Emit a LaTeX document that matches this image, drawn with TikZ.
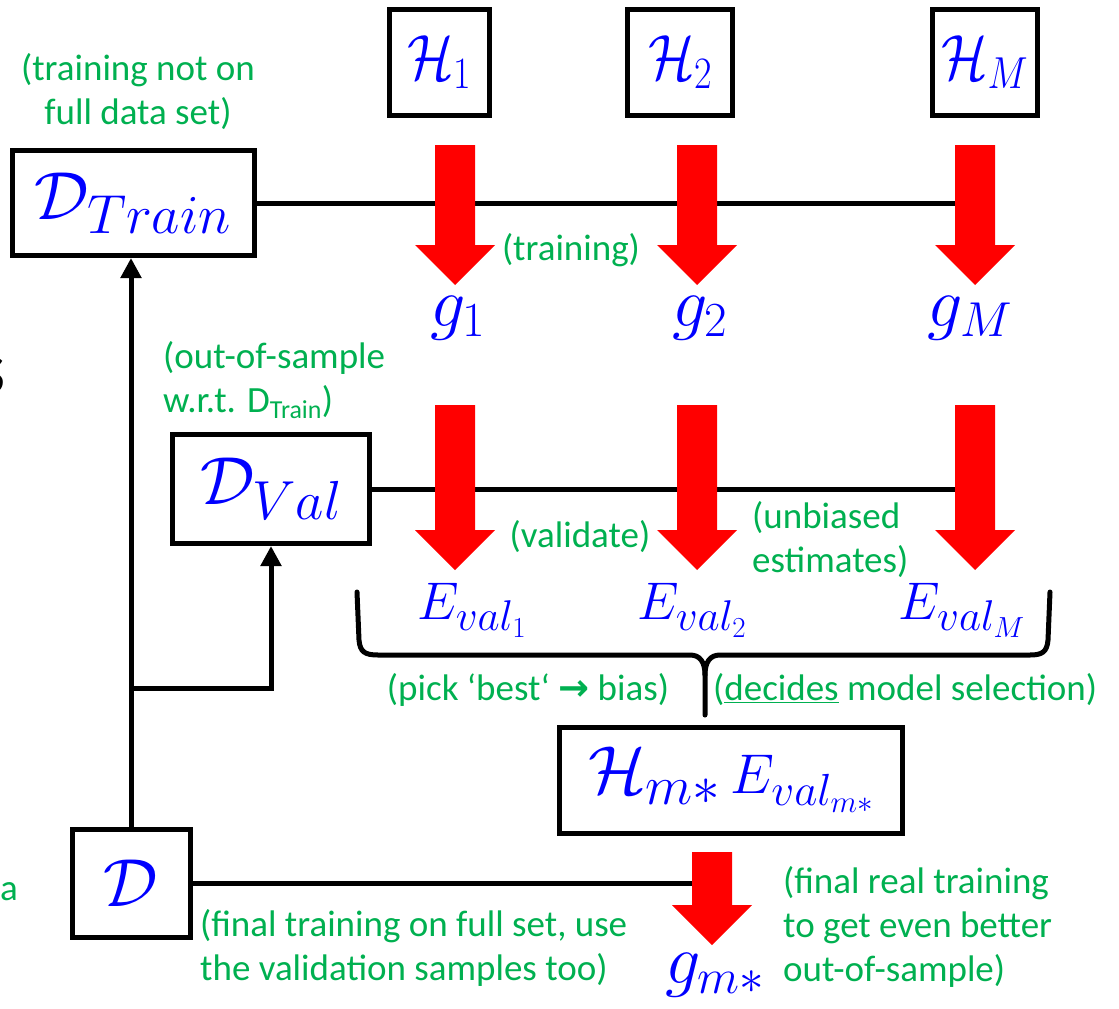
\RequirePackage{fix-cm}
\documentclass[tikz,border=0pt]{standalone}
\usepackage[no-math]{fontspec}
\setmainfont{Carlito}
\newfontfamily\arrowfont{DejaVu Sans}
\usetikzlibrary{arrows.meta}
\definecolor{grn}{RGB}{0,176,80}
\definecolor{mblue}{RGB}{0,0,255}
\definecolor{ared}{RGB}{255,0,0}
\DeclareMathSizes{53}{53}{43}{29}
\DeclareMathSizes{56}{56}{45}{31}
\DeclareMathSizes{68}{68}{55}{40}
\newcommand\mbig{\fontsize{68}{74}\selectfont}
\newcommand\mhbox{\fontsize{64}{70}\selectfont}
\newcommand\mmid{\fontsize{56}{62}\selectfont}
\newcommand\msmall{\fontsize{53}{58}\selectfont}
\newcommand\mg{\fontsize{70}{76}\selectfont}
\newcommand\gtext{\fontsize{37}{44}\selectfont}
\newcommand\narrow[1]{\scalebox{0.85}[1]{#1}}
\newcommand\fatarrow[4]{\fill[ared] ({#1-20},#2) -- ({#1+20},#2) -- ({#1+20},#3) -- ({#1+40},#3) -- (#1,#4) -- ({#1-40},#3) -- ({#1-20},#3) -- cycle;}
\begin{document}
\begin{tikzpicture}[x=1pt,y=-1pt,
  box/.style={draw=black, line width=5pt, inner sep=0pt, text=mblue},
  conn/.style={draw=black, line width=5pt},
  tip/.style={-{Triangle[length=20pt,width=20pt]}},
  note/.style={text=grn, font=\gtext, inner sep=0pt},
  mlabel/.style={text=mblue, inner sep=0pt},
  brace/.style={draw=black, line width=5pt, line cap=round}]
\useasboundingbox (0,0) rectangle (1119,1009);
% boxes
\node[box, minimum width=100pt, minimum height=106pt, font=\mhbox] (h1) at (439,62) {\narrow{$\mathcal{H}_1$}};
\node[box, minimum width=105pt, minimum height=106pt, font=\mhbox] (h2) at (680,62) {\narrow{$\mathcal{H}_2$}};
\node[box, minimum width=105pt, minimum height=106pt, font=\mhbox] (hM) at (985,62) {\narrow{$\mathcal{H}_M$}};
\node[box, minimum width=242pt, minimum height=105pt, font=\mbig] (dtrain) at (133,203) {$\mathcal{D}_{Train}$};
\node[box, minimum width=197pt, minimum height=109pt, font=\mbig] (dval) at (271,489) {$\mathcal{D}_{Val}$};
\node[box, minimum width=343pt, minimum height=106pt] (hm) at (731,780) {{\mbig$\mathcal{H}_{m*}$}\hspace{10pt}{\mmid$E_{val_{m*}}$}};
\node[box, minimum width=118pt, minimum height=108pt, font=\mbig] (d) at (131,883) {$\mathcal{D}$};
% free ends
\coordinate (t1end) at (955,203);
\coordinate (v1end) at (955,488);
\coordinate (fend) at (705,883);
\coordinate (br) at (131,688);
% connectors
\draw[conn] (dtrain.east) -- (t1end);
\draw[conn] (dval.east) -- (dval.east -| v1end);
\draw[conn] (d.east) -- (d.east -| fend);
\draw[conn, tip] (d.north) -- (d.north |- dtrain.south);
\draw[conn, tip] (br) -| (dval.south);
% red arrows
\fatarrow{455}{145}{245}{285}
\fatarrow{697}{145}{245}{285}
\fatarrow{975}{145}{245}{285}
\fatarrow{455}{405}{530}{570}
\fatarrow{697}{405}{530}{570}
\fatarrow{975}{405}{530}{570}
\fatarrow{712}{852}{905}{945}
% g labels
\node[mlabel, font=\mg] (g1) at (458,318) {$g_1$};
\node[mlabel, font=\mg] (g2) at (700,318) {$g_2$};
\node[mlabel, font=\mg] (gM) at (970,318) {$g_M$};
\node[mlabel, font=\mg] (gm) at (715,975) {$g_{m*}$};
% E labels
\node[mlabel, font=\msmall] (e1) at (472,610) {$E_{val_1}$};
\node[mlabel, font=\msmall] (e2) at (692,610) {$E_{val_2}$};
\node[mlabel, font=\msmall] (eM) at (962,610) {$E_{val_M}$};
% brace
\draw[brace] (357,592) -- (359,640) .. controls (360,652) and (365,655) .. (378,655) -- (690,655) .. controls (700,655) and (705,662) .. (705,675) -- (705,715);
\draw[brace] (1050,592) -- (1048,640) .. controls (1047,652) and (1042,655) .. (1030,655) -- (720,655) .. controls (710,655) and (705,662) .. (705,675);
% notes
\node[note, align=center] (n1) at (138,92) {(training not on\\full data set)};
\node[note] (n2) at (571,250) {(training)};
\node[note, align=left, anchor=west] (n3) at (163,380) {(out-of-sample\\w.r.t. D\textsubscript{Train})};
\node[note] (n4) at (580,537) {(validate)};
\node[note, align=left, anchor=west] (n5) at (752,540) {(unbiased\\estimates)};
\node[note] (n6) at (528,690) {(pick ‘best‘ {\arrowfont\bfseries →} bias)};
\node[note, anchor=west] (n7) at (713,690) {(\underline{decides} model selection)};
\node[note, align=left, anchor=west] (n8) at (200,948) {(final training on full set, use\\the validation samples too)};
\node[note, align=left, anchor=west] (n9) at (783,927) {(final real training\\to get even better\\out-of-sample)};
% cut-off letters at the left edge
\node[anchor=base east, inner sep=0pt, font=\fontsize{75}{80}\selectfont] (cut1) at (6,393) {s};
\node[note, anchor=base east] (cut2) at (18,900) {data};
\end{tikzpicture}
\end{document}
